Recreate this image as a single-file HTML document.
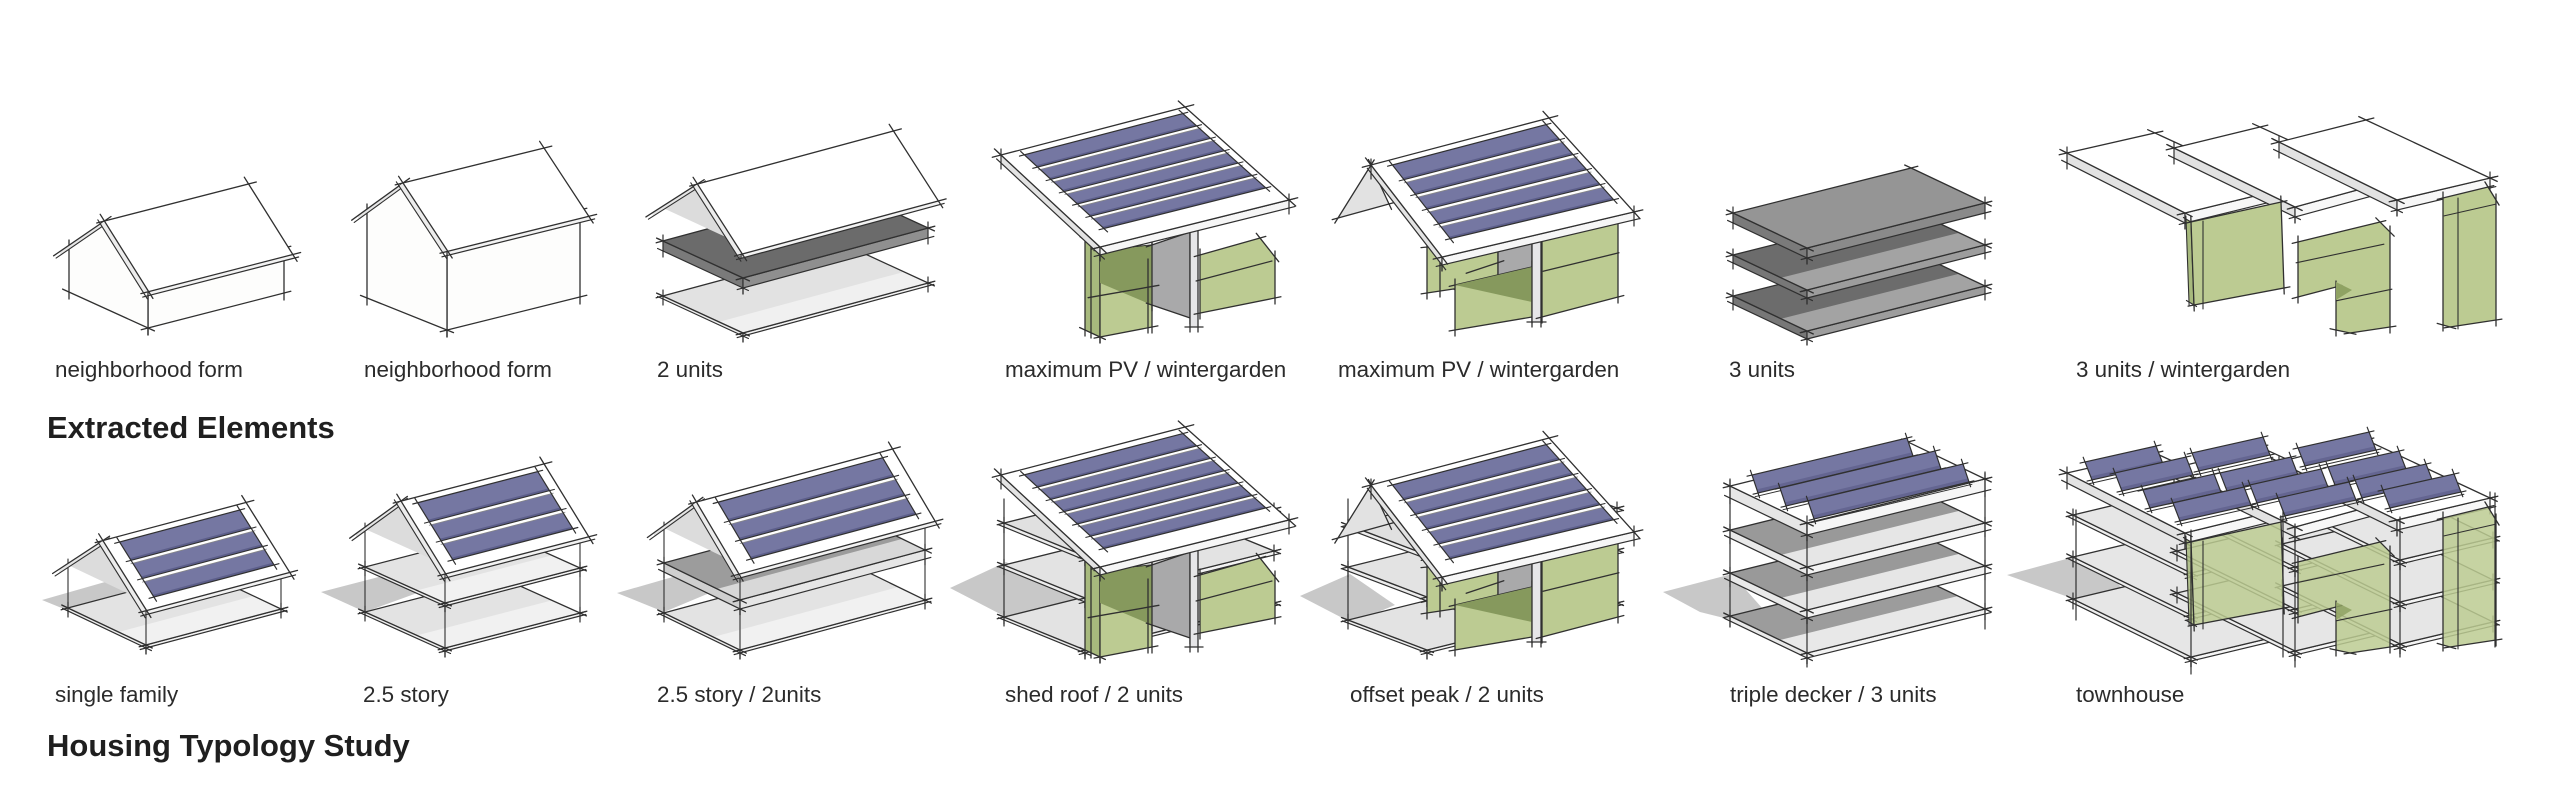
<!DOCTYPE html>
<html><head><meta charset="utf-8"><title>Housing Typology Study</title>
<style>
html,body{margin:0;padding:0;background:#fff}
body{width:2560px;height:787px;overflow:hidden}
svg{display:block}
text{font-family:"Liberation Sans",Arial,Helvetica,sans-serif;fill:#2b2b2b}
.l{font-size:22.4px}
.t{font-size:31px;font-weight:bold;fill:#1f1f1f}
</style></head><body>
<svg id="s" xmlns="http://www.w3.org/2000/svg" width="2560" height="787" viewBox="0 0 2560 787">
<rect width="2560" height="787" fill="#ffffff"/>
<g id="art" stroke-linecap="round" stroke-linejoin="round"></g>
<g>
<text class="l" x="55" y="377">neighborhood form</text>
<text class="l" x="364" y="377">neighborhood form</text>
<text class="l" x="657" y="377">2 units</text>
<text class="l" x="1005" y="377">maximum PV / wintergarden</text>
<text class="l" x="1338" y="377">maximum PV / wintergarden</text>
<text class="l" x="1729" y="377">3 units</text>
<text class="l" x="2076" y="377">3 units / wintergarden</text>
<text class="t" x="47" y="438">Extracted Elements</text>
<text class="l" x="55" y="702">single family</text>
<text class="l" x="363" y="702">2.5 story</text>
<text class="l" x="657" y="702">2.5 story / 2units</text>
<text class="l" x="1005" y="702">shed roof / 2 units</text>
<text class="l" x="1350" y="702">offset peak / 2 units</text>
<text class="l" x="1730" y="702">triple decker / 3 units</text>
<text class="l" x="2076" y="702">townhouse</text>
<text class="t" x="47" y="756">Housing Typology Study</text>
</g>
</svg>
<script>
(function(){
const NS='http://www.w3.org/2000/svg',G=document.getElementById('art'),K='#303030';
function el(t,a){const e=document.createElementNS(NS,t);for(const k in a)e.setAttribute(k,a[k]);G.appendChild(e);return e;}
function fmt(p){return p.map(q=>q[0].toFixed(1)+','+q[1].toFixed(1)).join(' ');}
function poly(p,f,op){el('polygon',{points:fmt(p),fill:f,'fill-opacity':op==null?1:op});}
function ln(a,b,e,w,c){if(e==null)e=6;const dx=b[0]-a[0],dy=b[1]-a[1],d=Math.hypot(dx,dy)||1,ux=dx/d*e,uy=dy/d*e;
 el('line',{x1:(a[0]-ux).toFixed(1),y1:(a[1]-uy).toFixed(1),x2:(b[0]+ux).toFixed(1),y2:(b[1]+uy).toFixed(1),stroke:c||K,'stroke-width':w||1.3});}
function out(p,e,w){for(let i=0;i<p.length;i++)ln(p[i],p[(i+1)%p.length],e,w);}
function shape(p,f,e,w,op){poly(p,f,op);out(p,e,w);}
function sh(p,dx,dy){return p.map(q=>[q[0]+dx,q[1]+dy]);}
function lerp(a,b,t){return [a[0]+(b[0]-a[0])*t,a[1]+(b[1]-a[1])*t];}
function dn(p,d){return [p[0],p[1]+d];}
function mk(O,U,V){return (a,b,c)=>[O[0]+a*U[0]+b*V[0],O[1]+a*U[1]+b*V[1]-(c||0)];}
const PVC='#7577a2',PVD='#5c5e8a',GR='#bccb92',GRS='#a7b97d',GRD='#86995d',GY='#a9a9aa';

function pv(A,B,C,D,n,sep){
  sep=sep||3.5;
  poly([A,B,C,D],PVC);
  const L=Math.hypot(D[0]-A[0],D[1]-A[1]);const s=sep/L,dk=2.5/L;
  for(let i=1;i<=n;i++){const t=i/n;poly([lerp(A,D,t-dk),lerp(B,C,t-dk),lerp(B,C,t),lerp(A,D,t)],PVD);}
  for(let i=1;i<n;i++){const t=i/n;const p=lerp(A,D,t),q=lerp(B,C,t),p2=lerp(A,D,t+s),q2=lerp(B,C,t+s);
    poly([p,q,q2,p2],'#ffffff');ln(p,q,5,1.1);ln(p2,q2,2,0.8,'#888');}
  out([A,B,C,D],5,1.2);
}
function panel(TL,w,h){
  const TR=[TL[0]+w[0],TL[1]+w[1]],BR=[TR[0]+h[0],TR[1]+h[1]],BL=[TL[0]+h[0],TL[1]+h[1]];
  poly([TL,TR,BR,BL],PVC);
  poly([lerp(TL,BL,.8),lerp(TR,BR,.8),BR,BL],PVD,0.7);
  out([TL,TR,BR,BL],5,1.2);
  ln(dn(BL,3),dn(BR,3),3,1);
}
function gable(O,U,V,wall,peak,o){
  o=o||{};
  const f=mk(O,U,V);
  const R=(a,t)=>f(a,.5-.5*t,peak-(peak-wall)*t);
  const Lf=(a,t)=>f(a,.5+.5*t,peak-(peak-wall)*t);
  const T=1.12,a0=-0.03,a1=1.03;
  if(o.walls){
    shape([f(0,0,0),f(1,0,0),f(1,0,wall),f(0,0,wall)],'#fdfdfc',7);
    poly([f(0,0,0),f(0,1,0),f(0,1,wall),f(0,.5,peak),f(0,0,wall)],'#fdfdfc');
    ln(f(0,0,0),f(0,1,0),7);ln(f(0,1,0),f(0,1,wall),7);ln(f(0,0,0),f(0,0,wall),7);
  }else if(o.under){
    poly([f(0,1,wall),f(0,.5,peak),f(0,0,wall)],o.under);
    ln(f(0,1,wall),f(0,.5,peak),3,1);
  }
  if(o.posts){[[0,0],[0,1],[1,0]].forEach(q=>ln(f(q[0],q[1],0),f(q[0],q[1],wall),6,1.1));}
  const l0=Lf(a0,0),l1=Lf(a0,T);
  poly([l0,l1,lerp(f(0,.5,peak),f(0,1,wall),.55)],'#d2d2d2');
  poly([l0,l1,dn(l1,4),dn(l0,4)],'#e6e6e6');
  ln(l0,l1,8);ln(dn(l0,4),dn(l1,4),5,1.1);
  const r0=R(a0,0),r1=R(a1,0),r2=R(a1,T),r3=R(a0,T);
  poly([r3,r2,dn(r2,4),dn(r3,4)],'#f2f2f2');
  poly([r0,r3,[r3[0]-4,r3[1]+3],[r0[0]-4,r0[1]+3]],'#ececec');
  shape([r0,r1,r2,r3],'#ffffff',8);
  ln(dn(r3,4),dn(r2,4),6,1.2);
  ln([r0[0]-4,r0[1]+3],[r3[0]-4,r3[1]+3],5,1.1);
  if(o.pv)pv(R(.07,.08),R(.96,.08),R(.96,.96),R(.07,.96),o.pv);
  return f;
}
function plate(O,U,V,th,top,side,end,front,split){
  const P=(a,b)=>[O[0]+a*U[0]+b*V[0],O[1]+a*U[1]+b*V[1]];
  if(end)shape([P(0,1),P(0,0),dn(P(0,0),th),dn(P(0,1),th)],end,6,1.2);
  shape([P(0,0),P(1,0),dn(P(1,0),th),dn(P(0,0),th)],side,6,1.2);
  poly([P(0,0),P(1,0),P(1,1),P(0,1)],top);
  if(front)poly([P(0,0),P(1,0),P(1,split),P(0,split)],front);
  out([P(0,0),P(1,0),P(1,1),P(0,1)],7,1.3);
  return P;
}
function shedRoof(A,B,C,D,n,th){
  shape([A,D,dn(D,th),dn(A,th)],'#e3e3e3',6,1.2);
  shape([D,C,dn(C,th),dn(D,th)],'#f6f6f6',6,1.2);
  shape([A,B,C,D],'#ffffff',9);
  const Q=(s,t)=>lerp(lerp(A,B,s),lerp(D,C,s),t);
  pv(Q(.1,.05),Q(.96,.05),Q(.96,.85),Q(.1,.85),n);
}
function slabQ(BL,BR,FR,FL,th){
  shape([BL,FL,dn(FL,th),dn(BL,th)],'#e2e2e2',6,1.2);
  shape([FL,FR,dn(FR,th),dn(FL,th)],'#f7f7f7',6,1.2);
  shape([BL,BR,FR,FL],'#ffffff',8);
}
function P1(p,dy){return [p[0],p[1]+dy];}
function d4walls(dy){
  const s=p=>sh(p,0,dy);
  shape(s([[1085,240],[1100,250],[1100,337],[1085,330]]),GRS,6);
  shape(s([[1100,250],[1152,245],[1152,327],[1100,337]]),GR,6);
  poly(s([[1100,252],[1152,245],[1152,305],[1100,283]]),GRD);
  shape(s([[1152,245],[1190,232],[1190,318],[1152,305]]),GY,6);
  shape(s([[1190,220],[1198,220],[1198,327],[1190,327]]),'#e6e6e8',5);
  shape(s([[1200,255],[1260,238],[1275,257],[1275,298],[1200,313]]),GR,6);
  ln(P1([1092,297],dy),P1([1155,286],dy),4);
  ln(P1([1200,280],dy),P1([1268,262],dy),4);
  ln(P1([1148,262],dy),P1([1148,330],dy),3);
  ln(P1([1091,245],dy),P1([1091,335],dy),3);
}
function d5walls(dy){
  const s=p=>sh(p,0,dy);
  shape(s([[1427,247],[1498,240],[1498,278],[1460,288],[1427,293]]),GR,6);
  shape(s([[1498,240],[1532,233],[1532,268],[1498,277]]),GY,6);
  shape(s([[1455,285],[1532,267],[1532,317],[1455,330]]),GR,6);
  poly(s([[1455,285],[1532,267],[1532,302]]),GRD);
  shape(s([[1532,230],[1541,230],[1541,322],[1532,322]]),'#e6e6e8',5);
  shape(s([[1542,236],[1618,220],[1618,297],[1542,317]]),GR,6);
  ln(P1([1548,270],dy),P1([1614,254],dy),5);
  ln(P1([1440,250],dy),P1([1440,293],dy),4);
  ln(P1([1470,272],dy),P1([1500,262],dy),4);
}
function d7g(dy,op){
  const s=p=>sh(p,0,dy);
  shape(s([[2186,219],[2191,222],[2194,305],[2189,302]]),GRS,3,1.1,op);
  shape(s([[2191,222],[2281,202],[2284,288],[2194,305]]),GR,6,1.3,op);
  shape(s([[2298,242],[2380,222],[2390,232],[2390,327],[2350,333],[2336,330],[2336,287],[2298,297]]),GR,6,1.3,op);
  poly(s([[2336,282],[2352,290],[2336,300]]),'#8fa263',op);
  shape(s([[2443,198],[2488,187],[2496,200],[2496,320],[2450,327],[2443,325]]),GR,6,1.3,op);
  ln(P1([2203,225],dy),P1([2203,305],dy),4,1.1);
  ln(P1([2458,202],dy),P1([2458,325],dy),4,1.1);
  ln(P1([2300,262],dy),P1([2380,245],dy),4,1.1);
  ln(P1([2340,300],dy),P1([2388,290],dy),4,1.1);
  ln(P1([2448,215],dy),P1([2492,205],dy),4,1.1);
}

/* ---------- ROW 1 ---------- */
gable([148,328],[136,-35],[-79,-36],45,90,{walls:1});
gable([447,330],[133,-33],[-80,-32],87,132,{walls:1});
plate([743,333],[185,-50],[-80,-37],3,'#e2e2e2','#f3f3f3','#ececec','#f0f0f0',.3);
plate([743,278],[185,-50],[-80,-37],10,'#6b6b6b','#8f8f8f','#7a7a7a');
gable([743,333],[185,-50],[-80,-37],88,132,{under:'#dcdcdc'});
d4walls(0);
shedRoof([1001,155],[1185,107],[1289,200],[1100,247],6,8);
d5walls(0);
shape([[1338,218],[1371,165],[1389,204]],'#e2e2e2',6);
shedRoof([1371,165],[1549,118],[1634,212],[1442,257],5,8);
const U6=[178,-45],V6=[-74,-35];
plate([1807,331],U6,V6,8,'#6c6c6c','#9d9d9d','#777777','#a3a3a3',.35);
plate([1807,290],U6,V6,8,'#6c6c6c','#9d9d9d','#777777','#a3a3a3',.35);
plate([1807,248],U6,V6,10,'#959595','#8a8a8a','#7a7a7a');
slabQ([2067,153],[2155,133],[2279,190],[2185,213],10);
slabQ([2174,148],[2260,127],[2383,183],[2295,207],10);
slabQ([2279,142],[2366,120],[2490,178],[2397,200],10);
d7g(0,1);

/* ---------- ROW 2 ---------- */
poly([[42,600],[112,580],[140,596],[69,611]],'#c8c8c8');
plate([146,645],[135,-36],[-78,-37],3,'#e3e3e3','#f3f3f3','#ececec','#f1f1f1',.35);
gable([146,645],[135,-36],[-78,-37],43,87,{under:'#dcdcdc',posts:1,pv:3});
poly([[321,592],[398,572],[420,592],[365,612]],'#c8c8c8');
plate([445,648],[135,-35],[-80,-36],3,'#e3e3e3','#f3f3f3','#ececec','#f1f1f1',.35);
plate([445,603],[135,-35],[-80,-36],3,'#e3e3e3','#f3f3f3','#ececec','#f1f1f1',.35);
gable([445,648],[135,-35],[-80,-36],83,130,{under:'#dcdcdc',posts:1,pv:3});
poly([[617,593],[690,572],[712,592],[664,612]],'#c8c8c8');
plate([740,650],[185,-50],[-76,-37],3,'#e3e3e3','#f3f3f3','#ececec','#f1f1f1',.35);
plate([740,600],[185,-50],[-76,-37],9,'#9c9c9c','#e6e6e6','#cfcfcf','#d8d8d8',.3);
gable([740,650],[185,-50],[-76,-37],85,131,{under:'#dcdcdc',posts:1,pv:3});
poly([[950,588],[1006,562],[1085,598],[1040,618],[1004,616]],'#c8c8c8');
const U11=[189,-47],V11=[-81,-33];
plate([1085,650],U11,V11,3,'#e3e3e3','#f3f3f3','#ececec');
plate([1085,598],U11,V11,4,'#e3e3e3','#f3f3f3','#ececec');
plate([1085,556],U11,V11,4,'#e0e0e0','#f3f3f3','#ececec');
ln([1004,505],[1004,618],6,1.2);
d4walls(320);
shedRoof([1001,475],[1185,427],[1289,520],[1100,567],6,8);
poly([[1300,596],[1350,574],[1395,605],[1352,623]],'#c8c8c8');
const U12=[190,-47],V12=[-79,-30];
plate([1427,650],U12,V12,3,'#e3e3e3','#f3f3f3','#ececec');
plate([1427,597],U12,V12,4,'#e3e3e3','#f3f3f3','#ececec');
plate([1427,555],U12,V12,4,'#e0e0e0','#f3f3f3','#ececec');
ln([1348,505],[1348,618],6,1.2);
d5walls(320);
shape([[1338,538],[1371,485],[1389,524]],'#e2e2e2',6);
shedRoof([1371,485],[1549,438],[1634,532],[1442,577],5,8);
const U13=[178,-44],V13=[-77,-37];
poly([[1663,592],[1732,574],[1770,617],[1740,622],[1700,612]],'#c8c8c8');
plate([1807,653],U13,V13,5,'#9c9c9c','#f3f3f3','#e9e9e9','#e8e8e8',.35);
plate([1807,610],U13,V13,8,'#999999','#f3f3f3','#e9e9e9','#e6e6e6',.33);
plate([1807,567],U13,V13,8,'#999999','#f3f3f3','#e9e9e9','#e6e6e6',.33);
plate([1807,523],U13,V13,12,'#ffffff','#f6f6f6','#e6e6e6');
ln([1807,523],[1807,660],7,1.2);ln([1730,486],[1730,620],7,1.2);ln([1985,479],[1985,622],7,1.2);
for(let i=0;i<3;i++)panel([1752+28*i,475+13*i],[155,-37],[6,18]);
poly([[2007,575],[2092,552],[2125,592],[2110,612]],'#c8c8c8');
const V14=[-118,-58];
[[2191,533,[92,-22]],[2295,527,[88,-21]],[2400,520,[93,-22]]].forEach(u=>{
  [124,82,40].forEach(o=>plate([u[0],u[1]+o],u[2],V14,4,'#e6e6e6','#f5f5f5','#eeeeee'));
});
slabQ([2067,473],[2155,453],[2279,510],[2185,533],10);
slabQ([2174,468],[2260,447],[2383,503],[2295,527],10);
slabQ([2279,462],[2366,440],[2490,498],[2397,520],10);
d7g(320,0.85);
[[2076,517,2076,613],[2191,537,2191,667],[2283,515,2283,650],[2295,531,2295,660],[2400,524,2400,650],[2495,500,2495,640]].forEach(v=>ln([v[0],v[1]],[v[2],v[3]],7,1.2));
const T14=[[[2085,462],[2115,473],[2143,490],[2173,503]],[[2192,453],[2220,473],[2250,485],[2278,498]],[[2298,448],[2328,467],[2355,480],[2383,490]]];
for(let r=0;r<4;r++)for(let u=0;u<3;u++)panel(T14[u][r],[71,-16],[7,18]);
})();
</script>
</body></html>
